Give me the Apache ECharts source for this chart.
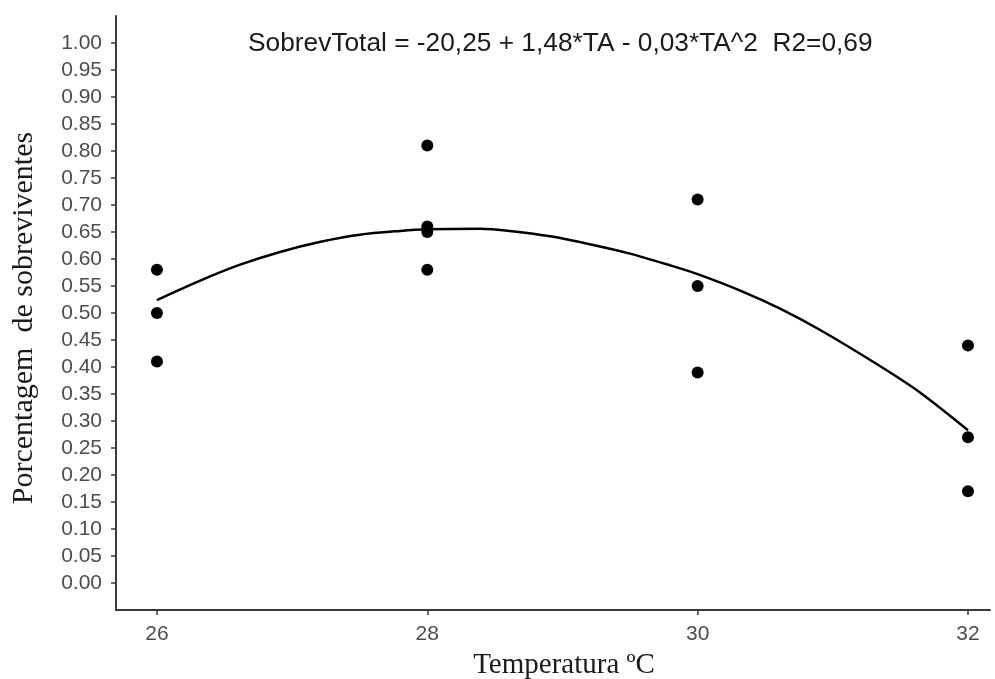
<!DOCTYPE html>
<html>
<head>
<meta charset="utf-8">
<script src="https://cdn.jsdelivr.net/npm/echarts@6/dist/echarts.min.js"></script>
<style>
html,body{margin:0;padding:0;background:#fff;}
#c{width:995px;height:679px;}
</style>
</head>
<body>
<div id="c"></div>
<script>
// Observed points (temperature, proportion of survivors)
var ptTemp = [26, 26, 26, 28, 28, 28, 28, 30, 30, 30, 32, 32, 32];
var ptSurv = [0.58, 0.50, 0.41, 0.81, 0.66, 0.65, 0.58, 0.71, 0.55, 0.39, 0.44, 0.27, 0.17];
// Fitted curve
var curveTemp = [26.00, 26.32, 26.61, 26.91, 27.21, 27.50, 27.80, 28.00, 28.39, 28.61, 28.91, 29.21, 29.50, 29.80, 30.00, 30.32, 30.61, 30.91, 31.36, 31.65, 32.00];
var curveSurv = [0.524, 0.560, 0.589, 0.613, 0.632, 0.645, 0.652, 0.655, 0.656, 0.652, 0.642, 0.627, 0.610, 0.588, 0.572, 0.541, 0.508, 0.468, 0.400, 0.352, 0.283];
// Tick labels
var xTicks = [26, 28, 30, 32];
var yTicks = [0.00, 0.05, 0.10, 0.15, 0.20, 0.25, 0.30, 0.35, 0.40, 0.45, 0.50, 0.55, 0.60, 0.65, 0.70, 0.75, 0.80, 0.85, 0.90, 0.95, 1.00];
var titleText = 'SobrevTotal = -20,25 + 1,48*TA - 0,03*TA^2  R2=0,69';
var xName = 'Temperatura ºC';
var yName = 'Porcentagem  de sobreviventes';

var chart = echarts.init(document.getElementById('c'), null, {renderer: 'canvas'});
var pts = ptTemp.map(function (t, i) { return [t, ptSurv[i]]; });
var curve = curveTemp.map(function (t, i) { return [t, curveSurv[i]]; });
var axisColor = '#3a3a3a';
var labelColor = '#4d4d4d';

chart.setOption({
  backgroundColor: '#ffffff',
  animation: false,
  grid: {left: 116, right: 5, top: 16, bottom: 69, containLabel: false},
  xAxis: {
    type: 'value', min: 25.697, max: 32.163,
    axisLine: {show: true, onZero: false, lineStyle: {color: axisColor, width: 2}},
    axisTick: {show: true, length: 5, customValues: xTicks, lineStyle: {color: axisColor, width: 1.5}},
    axisLabel: {customValues: xTicks, color: labelColor, fontFamily: 'Liberation Sans', fontSize: 21, margin: 14,
      showMinLabel: true, showMaxLabel: true},
    splitLine: {show: false}
  },
  yAxis: {
    type: 'value', min: -0.05, max: 1.05,
    axisLine: {show: true, onZero: false, lineStyle: {color: axisColor, width: 2}},
    axisTick: {show: true, length: 5, customValues: yTicks, lineStyle: {color: axisColor, width: 1.5}},
    axisLabel: {customValues: yTicks, color: labelColor, fontFamily: 'Liberation Sans', fontSize: 21, margin: 14,
      formatter: function (v) { return v.toFixed(2); }},
    splitLine: {show: false}
  },
  graphic: [
    {type: 'text', left: 248, top: 31, style: {text: titleText, font: '26.3px "Liberation Sans"', fill: '#1a1a1a'}},
    {type: 'text', x: 564, y: 665, style: {text: xName, font: '29px "Liberation Serif"', fill: '#1a1a1a', align: 'center', verticalAlign: 'middle'}},
    {type: 'text', x: 24, y: 318, rotation: Math.PI / 2, style: {text: yName, font: '30px "Liberation Serif"', fill: '#1a1a1a', align: 'center', verticalAlign: 'middle'}}
  ],
  series: [
    {type: 'line', data: curve, smooth: 0.3, showSymbol: false, symbol: 'none',
      lineStyle: {color: '#000000', width: 2.5}, z: 2},
    {type: 'scatter', data: pts, symbol: 'circle', symbolSize: 12,
      itemStyle: {color: '#000000', opacity: 1}, z: 3}
  ]
});
</script>
</body>
</html>
